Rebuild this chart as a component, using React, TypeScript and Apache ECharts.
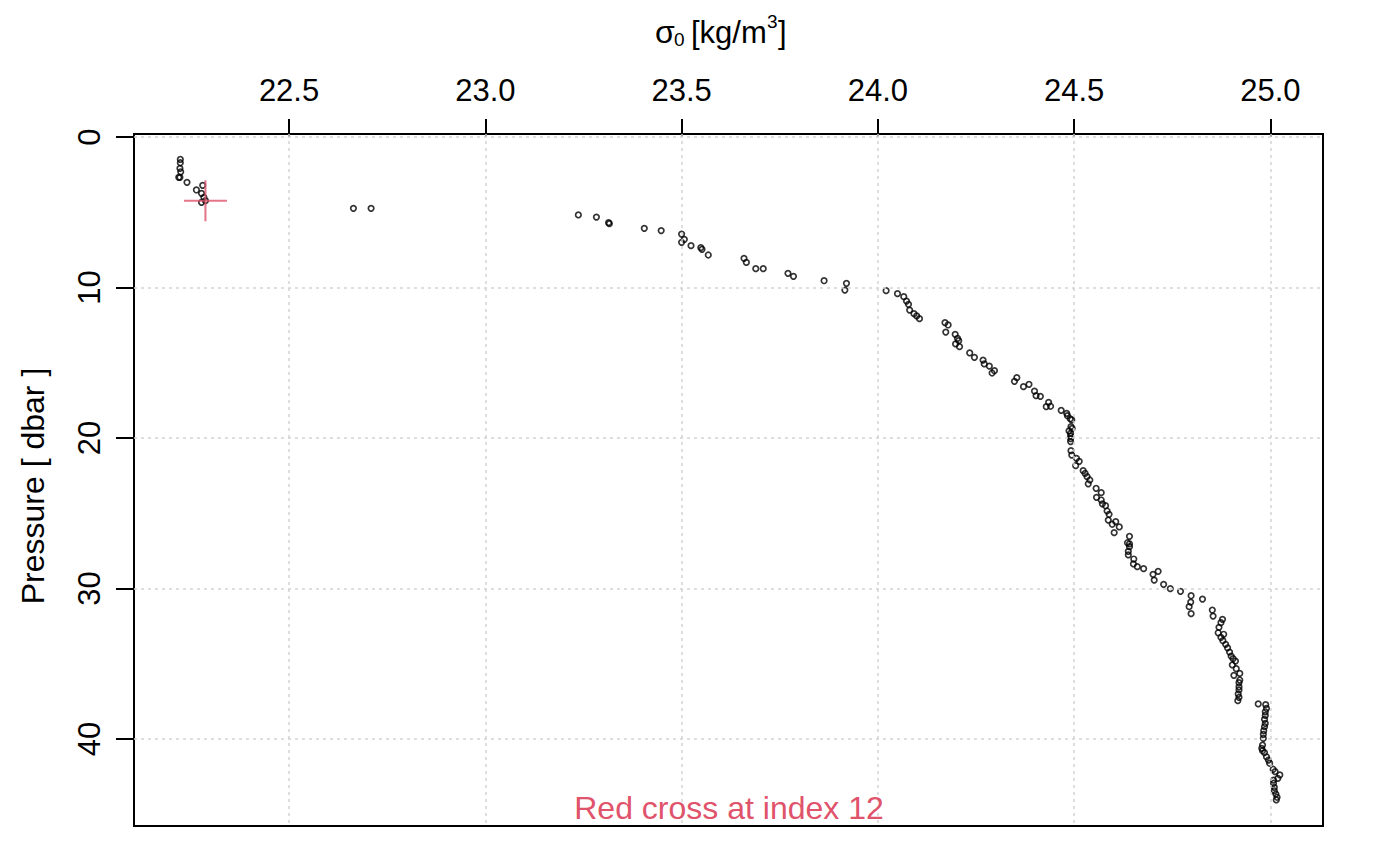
import React, { useEffect, useRef } from "react";
import * as echarts from "echarts";

const sigma0: number[] = [
  22.223, 22.223, 22.222, 22.224, 22.219, 22.222, 22.240, 22.280, 22.264, 22.277,
  22.283, 22.287, 22.277, 22.664, 22.709,
  23.237, 23.283, 23.314, 23.316, 23.405, 23.448, 23.500, 23.507, 23.500, 23.524,
  23.549, 23.552, 23.568, 23.659, 23.665, 23.689, 23.708, 23.771, 23.785, 23.863,
  23.920, 23.916, 24.021, 24.050,
  24.066, 24.073, 24.078, 24.081, 24.092, 24.099, 24.106, 24.171, 24.179, 24.173,
  24.197, 24.203, 24.206, 24.198, 24.208, 24.234, 24.246, 24.268, 24.271, 24.284,
  24.297, 24.291, 24.354, 24.348, 24.385, 24.371, 24.399, 24.403, 24.414, 24.435,
  24.440, 24.429, 24.467, 24.481, 24.483, 24.490,
  24.494, 24.492, 24.495, 24.487, 24.491, 24.491, 24.491, 24.491, 24.492, 24.494,
  24.506, 24.513, 24.504, 24.523, 24.528, 24.533, 24.540, 24.536, 24.556, 24.569,
  24.557, 24.569, 24.572, 24.580, 24.584, 24.589, 24.587, 24.606, 24.597, 24.615,
  24.602, 24.641, 24.636, 24.641, 24.641, 24.638, 24.638, 24.652, 24.651, 24.661,
  24.677, 24.714, 24.701, 24.704, 24.728, 24.745, 24.771,
  24.798, 24.827, 24.797, 24.793, 24.852, 24.798, 24.854, 24.878, 24.874, 24.869,
  24.867, 24.881, 24.874, 24.879, 24.886, 24.891, 24.896, 24.900, 24.905, 24.911,
  24.903, 24.913, 24.922, 24.907, 24.922, 24.920, 24.920, 24.920, 24.918, 24.920,
  24.917, 24.969, 24.988,
  24.990, 24.987, 24.987, 24.985, 24.987, 24.985, 24.983, 24.982, 24.982, 24.980,
  24.978, 24.980, 24.985, 24.990, 24.995, 24.998, 25.007, 25.012, 25.024, 25.019,
  25.008, 25.008, 25.010, 25.010, 25.014, 25.017, 25.015,
];

const pressure: number[] = [
  1.48, 1.71, 2.08, 2.31, 2.68, 2.68, 3.01, 3.21, 3.52, 3.74,
  4.01, 4.23, 4.34, 4.74, 4.74,
  5.18, 5.32, 5.69, 5.76, 6.07, 6.22, 6.45, 6.80, 7.00, 7.22,
  7.35, 7.46, 7.84, 8.06, 8.33, 8.75, 8.75, 9.06, 9.26, 9.55,
  9.72, 10.17, 10.21, 10.41,
  10.61, 10.90, 11.12, 11.50, 11.74, 11.89, 12.07, 12.34, 12.49, 12.96,
  13.11, 13.38, 13.53, 13.75, 13.93, 14.35, 14.64, 14.82, 15.08, 15.22,
  15.53, 15.68, 15.99, 16.23, 16.43, 16.59, 16.88, 17.19, 17.23, 17.63,
  17.89, 17.92, 18.16, 18.36, 18.52, 18.72,
  18.80, 19.25, 19.36, 19.53, 19.69, 19.87, 20.04, 20.24, 20.84, 21.13,
  21.35, 21.55, 21.84, 22.17, 22.35, 22.57, 22.79, 23.04, 23.34, 23.63,
  23.94, 24.12, 24.37, 24.50, 24.85, 25.07, 25.45, 25.56, 25.73, 25.91,
  26.29, 26.53, 26.96, 27.04, 27.22, 27.53, 27.77, 28.04, 28.37, 28.55,
  28.68, 28.86, 29.06, 29.44, 29.72, 30.01, 30.19,
  30.48, 30.70, 30.90, 31.21, 31.43, 31.67, 31.83, 32.05, 32.27, 32.58,
  32.94, 33.04, 33.24, 33.47, 33.71, 33.95, 34.22, 34.49, 34.66, 34.82,
  35.08, 35.33, 35.64, 35.77, 36.08, 36.26, 36.53, 36.74, 37.01, 37.23,
  37.45, 37.67, 37.72,
  37.97, 38.19, 38.43, 38.69, 38.96, 39.18, 39.45, 39.69, 39.95, 40.40,
  40.62, 40.78, 40.91, 41.18, 41.40, 41.61, 42.01, 42.17, 42.39, 42.61,
  42.73, 42.94, 43.21, 43.44, 43.66, 43.87, 44.05,
];

const xTicks: number[] = [22.5, 23.0, 23.5, 24.0, 24.5, 25.0];
const yTicks: number[] = [0, 10, 20, 30, 40];
const crossIndex = 12; // 1-based index, as in the label
const noteText = "Red cross at index 12";
const yTitle = "Pressure [ dbar ]";

const FONT = '"Liberation Sans", Arial, Helvetica, sans-serif';
const RED = "#DF536B";

export default function App() {
  const ref = useRef<HTMLDivElement>(null);

  useEffect(() => {
    if (!ref.current) return;
    const chart = echarts.init(ref.current, null, { renderer: "svg" });
    const points = sigma0.map((s, i) => [s, pressure[i]]);
    const cross = [[sigma0[crossIndex - 1], pressure[crossIndex - 1]]];

    const option: any = {
      animation: false,
      backgroundColor: "#ffffff",
      grid: {
        left: 134,
        top: 134,
        right: 77,
        bottom: 39,
        show: true,
        borderColor: "#000",
        borderWidth: 2,
        backgroundColor: "transparent",
      },
      xAxis: {
        type: "value",
        position: "top",
        min: 22.105,
        max: 25.134,
        axisLine: { show: false },
        splitLine: { show: false },
        axisTick: {
          show: true,
          length: 18,
          customValues: xTicks,
          lineStyle: { color: "#000", width: 2 },
        },
        axisLabel: {
          customValues: xTicks,
          fontSize: 31,
          fontFamily: FONT,
          color: "#000",
          margin: 28,
          formatter: (v: number) => v.toFixed(1),
        },
      },
      yAxis: {
        type: "value",
        inverse: true,
        min: -0.2,
        max: 45.78,
        axisLine: { show: false },
        splitLine: { show: false },
        axisTick: {
          show: true,
          length: 18,
          customValues: yTicks,
          lineStyle: { color: "#000", width: 2 },
        },
        axisLabel: {
          customValues: yTicks,
          rotate: 90,
          fontSize: 31,
          fontFamily: FONT,
          color: "#000",
          margin: 29,
          formatter: (v: number) => String(v),
        },
      },
      series: [
        {
          type: "scatter",
          data: points,
          symbol: "circle",
          symbolSize: 5.5,
          itemStyle: { color: "none", borderColor: "#000", borderWidth: 1.7 },
          silent: true,
          z: 3,
          markLine: {
            silent: true,
            symbol: ["none", "none"],
            label: { show: false },
            lineStyle: { color: "#d3d3d3", type: [3, 4], width: 1.5 },
            data: [
              ...xTicks.map((v) => ({ xAxis: v })),
              ...yTicks.map((v) => ({ yAxis: v })),
            ],
          },
        },
        {
          type: "scatter",
          data: cross,
          symbol: "path://M0,20 L42,20 M21,0 L21,40",
          symbolSize: [43, 41],
          symbolKeepAspect: false,
          itemStyle: { color: "none", borderColor: RED, borderWidth: 2 },
          silent: true,
          z: 4,
        },
      ],
      graphic: [
        { type: "text", x: 655, y: 32.3, style: { text: "σ", font: `32px ${FONT}`, fill: "#000", verticalAlign: "middle", align: "left" } },
        { type: "text", x: 674, y: 39, style: { text: "0", font: `19px ${FONT}`, fill: "#000", verticalAlign: "middle", align: "left" } },
        { type: "text", x: 691, y: 32.6, style: { text: "[kg/m", font: `31px ${FONT}`, fill: "#000", verticalAlign: "middle", align: "left" } },
        { type: "text", x: 767, y: 21.7, style: { text: "3", font: `19px ${FONT}`, fill: "#000", verticalAlign: "middle", align: "left" } },
        { type: "text", x: 778, y: 32.6, style: { text: "]", font: `31px ${FONT}`, fill: "#000", verticalAlign: "middle", align: "left" } },
        {
          type: "text",
          x: 32.6,
          y: 486,
          rotation: Math.PI / 2,
          style: { text: yTitle, font: `32px ${FONT}`, fill: "#000", verticalAlign: "middle", align: "center" },
        },
        {
          type: "text",
          x: 729,
          y: 808,
          style: { text: noteText, font: `32px ${FONT}`, fill: RED, verticalAlign: "middle", align: "center" },
          z: 10,
        },
      ],
    };
    chart.setOption(option);
    return () => chart.dispose();
  }, []);

  return (
    <div
      ref={ref}
      style={{ position: "fixed", left: 0, top: 0, width: 1400, height: 865, background: "#fff" }}
    />
  );
}
